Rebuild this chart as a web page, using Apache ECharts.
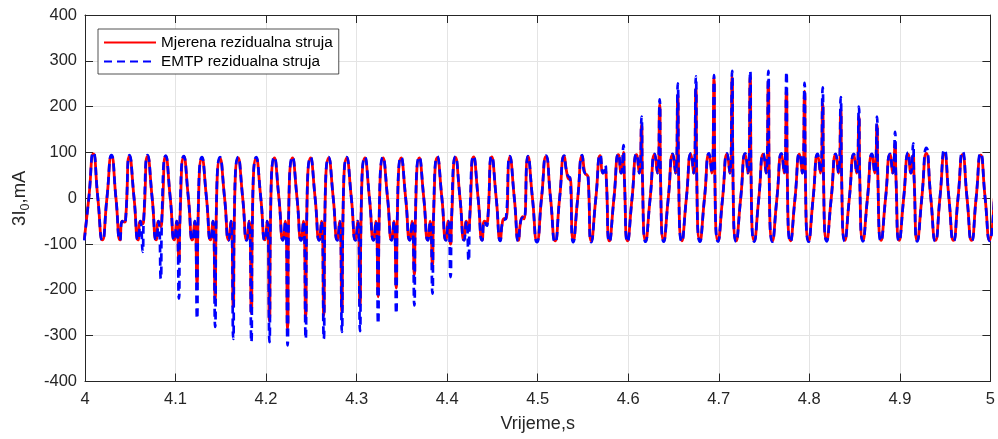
<!DOCTYPE html>
<html>
<head>
<meta charset="utf-8">
<script src="https://cdn.jsdelivr.net/npm/echarts/dist/echarts.min.js"></script>
<style>
html,body{margin:0;padding:0;background:#ffffff;}
#chart{width:998px;height:439px;}
</style>
</head>
<body>
<div id="chart"></div>
<script>
// ---------- data ----------
// time (s) of each positive half-wave crest, one per 50 Hz cycle
const peakTimes = [
  4.0092, 4.0292, 4.0492, 4.0692, 4.0892, 4.1092, 4.1292, 4.1492, 4.1692, 4.1892,
  4.2092, 4.2292, 4.2492, 4.2692, 4.2892, 4.3092, 4.3292, 4.3492, 4.3692, 4.3892,
  4.4092, 4.4292, 4.4492, 4.4692, 4.4892, 4.5092, 4.5292, 4.5492, 4.5692, 4.5892,
  4.6092, 4.6292, 4.6492, 4.6692, 4.6892, 4.7092, 4.7292, 4.7492, 4.7692, 4.7892,
  4.8092, 4.8292, 4.8492, 4.8692, 4.8892, 4.9092, 4.9292, 4.9492, 4.9692, 4.9892
];
// crest values (mA)
const measuredPeak = [
  97, 92, 92, 92, 92, 91, 88, 87, 88, 88,
  88, 88, 88, 88, 88, 88, 88, 88, 88, 89,
  89, 90, 90, 90, 91, 91, 92, 92, 93, 95,
  95, 95, 95, 96, 96, 96, 96, 96, 96, 96,
  95, 95, 95, 95, 95, 96, 98, 97, 95, 94
];
const emtpPeak = [
  100, 94, 94, 94, 93, 92, 90, 90, 90, 90,
  90, 90, 90, 90, 90, 90, 90, 90, 90, 91,
  91, 92, 92, 92, 92, 93, 93, 94, 95, 97,
  97, 97, 97, 98, 98, 98, 98, 98, 98, 98,
  97, 97, 97, 97, 97, 100, 110, 106, 102, 98
];
// trough values following each crest (mA)
const measuredTrough = [
  -91, -91, -91, -91, -91, -91, -91, -91, -91, -91,
  -91, -91, -91, -91, -91, -91, -91, -91, -91, -91,
  -91, -91, -92, -92, -93, -93, -93, -93, -93, -93,
  -93, -93, -93, -93, -93, -93, -93, -93, -93, -93,
  -92, -92, -92, -92, -92, -92, -92, -92, -92, -92
];
const emtpTrough = [
  -92, -92, -92, -92, -92, -92, -92, -92, -92, -92,
  -92, -92, -92, -92, -92, -92, -92, -92, -92, -92,
  -92, -92, -93, -94, -96, -96, -96, -96, -95, -95,
  -95, -95, -95, -95, -95, -95, -95, -95, -95, -95,
  -94, -94, -94, -94, -94, -94, -94, -94, -94, -93
];
// negative spikes on the rising edge after a trough (mA), null = none
const measuredNegSpike = [
  null, -52, -56, -62, -137, -187, -222, -238, -250, -268,
  -285, -260, -256, -248, -235, -215, -196, -167, -145, -100,
  -70, -52, -44, -40, null, null, null, null, null, null,
  null, null, null, null, null, null, null, null, null, null,
  null, null, null, null, null, null, null, null, null, null
];
const emtpNegSpike = [
  null, -56, -117, -176, -219, -263, -281, -307, -314, -314,
  -321, -307, -307, -292, -290, -274, -252, -234, -208, -172,
  -137, -60, -46, -42, null, null, null, null, null, null,
  null, null, null, null, null, null, null, null, null, null,
  null, null, null, null, null, null, null, null, null, null
];
// positive spikes on the falling edge after a crest (mA), null = none
const measuredPosSpike = [
  null, null, null, null, null, null, null, null, null, null,
  null, null, null, null, null, null, null, null, null, null,
  null, null, null, null, null, null, 42, 50, 62, 100,
  160, 205, 227, 242, 262, 265, 265, 256, 240, 234,
  207, 194, 178, 160, 120, 95, null, null, null, null
];
const emtpPosSpike = [
  null, null, null, null, null, null, null, null, null, null,
  null, null, null, null, null, null, null, null, null, null,
  null, null, null, null, null, null, 46, 55, 72, 116,
  178, 216, 251, 266, 269, 278, 278, 278, 276, 252,
  242, 221, 200, 178, 145, 120, null, null, null, null
];
// levels of the small notches around the spikes (mA)
const negBumpLevel = -50;
const negAfterLevel = -45;
const posDipLevel = 55;
const posAfterLevel = 45;

const xTickLabels = ['4', '4.1', '4.2', '4.3', '4.4', '4.5', '4.6', '4.7', '4.8', '4.9', '5'];
const yTickLabels = ['-400', '-300', '-200', '-100', '0', '100', '200', '300', '400'];
const seriesNames = ['Mjerena rezidualna struja', 'EMTP rezidualna struja'];

// ---------- build point lists (offsets within a 20 ms cycle, seconds) ----------
function buildWave(peak, trough, negSpike, posSpike) {
  const pts = [[3.9992, trough[0]], [4.0042, 0]];
  for (let k = 0; k < peakTimes.length; k++) {
    const P = peakTimes[k];
    pts.push([P, peak[k]]);
    if (posSpike[k] != null) {
      pts.push([P + 0.003, posDipLevel]);
      pts.push([P + 0.0055, posSpike[k]]);
      pts.push([P + 0.0065, posAfterLevel]);
      pts.push([P + 0.010, trough[k]]);
      pts.push([P + 0.015, 0]);
    } else if (negSpike[k] != null) {
      pts.push([P + 0.005, 0]);
      pts.push([P + 0.0095, trough[k]]);
      pts.push([P + 0.012, negBumpLevel]);
      pts.push([P + 0.0145, negSpike[k]]);
      pts.push([P + 0.0157, negAfterLevel]);
    } else {
      pts.push([P + 0.005, 0]);
      pts.push([P + 0.010, trough[k]]);
      pts.push([P + 0.015, 0]);
    }
  }
  return pts;
}
const measuredData = buildWave(measuredPeak, measuredTrough, measuredNegSpike, measuredPosSpike);
const emtpData = buildWave(emtpPeak, emtpTrough, emtpNegSpike, emtpPosSpike);

// ---------- chart ----------
const FONT = '"Liberation Sans", Arial, Helvetica, sans-serif';
const AX = '#262626';
const GRIDC = '#e4e4e4';

const chart = echarts.init(document.getElementById('chart'), null, {renderer: 'canvas'});
const xFmt = v => xTickLabels[Math.round((v - 4) * 10)] ?? '';
const yFmt = v => yTickLabels[Math.round((v + 400) / 100)] ?? '';

const option = {
  animation: false,
  backgroundColor: '#ffffff',
  grid: {left: 85, right: 6.5, top: 15, bottom: 57.5, containLabel: false},
  legend: {
    left: 98, top: 29, orient: 'vertical',
    backgroundColor: '#ffffff', borderColor: AX, borderWidth: 0.8, borderRadius: 0,
    padding: [6, 6, 5, 5], itemGap: 4, itemWidth: 52, itemHeight: 16,
    itemStyle: {color: 'rgba(0,0,0,0)', borderWidth: 0, opacity: 0},
    textStyle: {fontSize: 15.3, fontFamily: FONT, color: '#000000'},
    data: seriesNames
  },
  xAxis: [
    {
      type: 'value', min: 4, max: 5, interval: 0.1, position: 'bottom',
      axisLine: {show: true, onZero: false, lineStyle: {color: AX, width: 1}},
      axisTick: {show: true, inside: true, length: 8, lineStyle: {color: AX, width: 1}},
      axisLabel: {color: AX, fontSize: 16.5, fontFamily: FONT, margin: 9, formatter: xFmt},
      splitLine: {show: true, lineStyle: {color: GRIDC, width: 1}},
      name: 'Vrijeme,s', nameLocation: 'middle', nameGap: 34,
      nameTextStyle: {color: AX, fontSize: 18, fontFamily: FONT}
    },
    {
      type: 'value', min: 4, max: 5, interval: 0.1, position: 'top',
      axisLine: {show: true, onZero: false, lineStyle: {color: AX, width: 1}},
      axisTick: {show: true, inside: true, length: 8, lineStyle: {color: AX, width: 1}},
      axisLabel: {show: false}, splitLine: {show: false}
    }
  ],
  yAxis: [
    {
      type: 'value', min: -400, max: 400, interval: 100, position: 'left',
      axisLine: {show: true, onZero: false, lineStyle: {color: AX, width: 1}},
      axisTick: {show: true, inside: true, length: 8, lineStyle: {color: AX, width: 1}},
      axisLabel: {color: AX, fontSize: 16.5, fontFamily: FONT, margin: 8, formatter: yFmt},
      splitLine: {show: true, lineStyle: {color: GRIDC, width: 1}},
      name: '{a|3I}{b|0}{a|,mA}', nameLocation: 'middle', nameGap: 53, nameRotate: 90,
      nameTextStyle: {
        rich: {
          a: {fontSize: 18.5, fontFamily: FONT, color: AX, lineHeight: 24, verticalAlign: 'middle'},
          b: {fontSize: 12.5, fontFamily: FONT, color: AX, lineHeight: 24, verticalAlign: 'bottom'}
        }
      }
    },
    {
      type: 'value', min: -400, max: 400, interval: 100, position: 'right',
      axisLine: {show: true, onZero: false, lineStyle: {color: AX, width: 1}},
      axisTick: {show: true, inside: true, length: 8, lineStyle: {color: AX, width: 1}},
      axisLabel: {show: false}, splitLine: {show: false}
    }
  ],
  series: [
    {
      name: seriesNames[0], type: 'line', xAxisIndex: 0, yAxisIndex: 0,
      data: measuredData, smooth: 0.6, symbol: 'none', showSymbol: false,
      lineStyle: {color: '#ff0000', width: 2.8, type: 'solid'},
      itemStyle: {color: '#ff0000'}, clip: true, z: 2
    },
    {
      name: seriesNames[1], type: 'line', xAxisIndex: 0, yAxisIndex: 0,
      data: emtpData, smooth: 0.6, symbol: 'none', showSymbol: false,
      lineStyle: {color: '#0000ff', width: 2.7, type: [8, 5]},
      itemStyle: {color: '#0000ff'}, clip: true, z: 3
    }
  ]
};
chart.setOption(option);
</script>
</body>
</html>
